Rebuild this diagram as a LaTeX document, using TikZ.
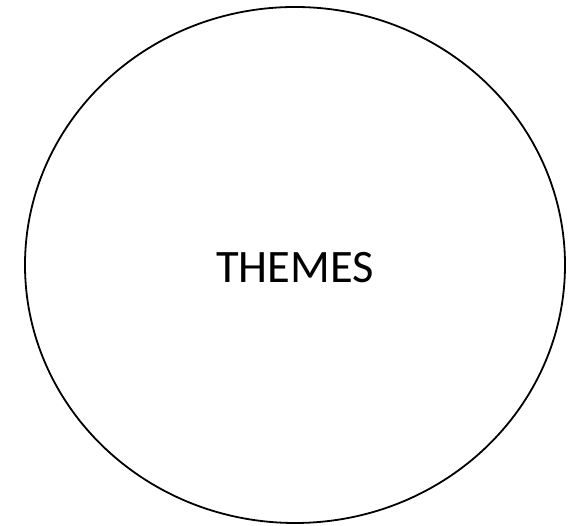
\documentclass[tikz,border=0pt]{standalone}
\usepackage{fontspec}
\setmainfont{Carlito}
\usetikzlibrary{shapes.geometric}

\begin{document}
\begin{tikzpicture}[
    x=1pt, y=1pt,
    theme/.style={draw, ellipse, line width=1.8pt, inner sep=0pt,
                  minimum width=540pt, minimum height=516pt,
                  text height=36pt, text depth=0pt,
                  font=\fontsize{46.5}{50}\selectfont},
  ]
    \useasboundingbox (0,0) rectangle (579,526);
    \node[theme] (themes) at (295,261) {THEMES};
  \end{tikzpicture}
\end{document}
